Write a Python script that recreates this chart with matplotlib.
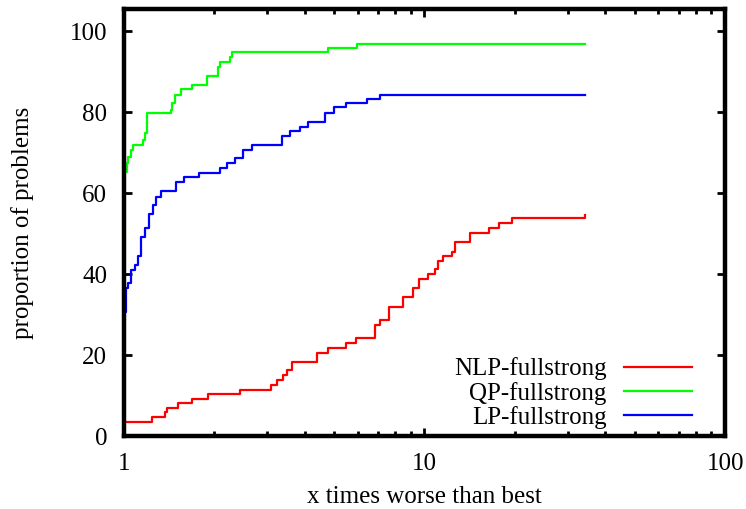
import matplotlib
matplotlib.use('Agg')
import matplotlib.pyplot as plt
from matplotlib.ticker import LogLocator, NullFormatter, FixedLocator, FixedFormatter

plt.rcParams['font.family'] = ['Liberation Serif', 'DejaVu Serif']

# step breakpoints (x times worse than best) and proportion after each step
nlp_x = [1.0, 1.239, 1.369, 1.39, 1.51, 1.684, 1.904, 2.43, 3.08, 3.23, 3.39,
         3.49, 3.62, 4.38, 4.77, 5.48, 5.92, 6.84, 7.12, 7.62, 8.48, 9.15,
         9.58, 10.27, 10.82, 11.07, 11.5, 12.32, 12.6, 14.15, 16.4, 17.7,
         19.5, 34.2]
nlp_y = [3.5, 4.7, 5.9, 6.9, 8.1, 9.1, 10.4, 11.4, 12.6, 13.8, 15.1, 16.3,
         18.2, 20.5, 21.7, 23.0, 24.2, 27.4, 28.6, 31.9, 34.3, 36.5, 38.8,
         40.0, 41.2, 43.2, 44.4, 45.4, 47.9, 50.1, 51.4, 52.6, 53.8, 54.5]

qp_x = [1.0, 1.023, 1.031, 1.055, 1.071, 1.157, 1.175, 1.193, 1.433, 1.445,
        1.478, 1.548, 1.684, 1.888, 2.055, 2.087, 2.254, 2.288, 4.77, 5.96,
        34.2]
qp_y = [65.2, 67.4, 68.9, 70.6, 71.9, 73.1, 74.8, 79.8, 80.5, 82.2, 84.2,
        85.7, 86.7, 88.9, 91.1, 92.3, 93.6, 94.8, 95.9, 96.7, 96.7]

lp_x = [1.0, 1.015, 1.031, 1.055, 1.088, 1.113, 1.139, 1.175, 1.211, 1.249,
        1.278, 1.328, 1.49, 1.584, 1.776, 2.087, 2.2, 2.34, 2.49, 2.667,
        3.36, 3.57, 3.85, 4.1, 4.66, 5.0, 5.48, 6.44, 7.12, 34.2]
lp_y = [30.6, 36.5, 37.8, 41.0, 42.2, 44.4, 49.1, 51.4, 54.8, 57.0, 59.0,
        60.5, 62.7, 64.0, 65.0, 66.2, 67.4, 68.6, 70.6, 71.9, 74.0, 75.3,
        76.3, 77.5, 79.8, 81.2, 82.2, 83.3, 84.1, 84.1]

fig = plt.figure(figsize=(7.46, 5.09), dpi=100)
ax = fig.add_axes([0.166, 0.1434, 0.806, 0.8386])

ax.plot(nlp_x, nlp_y, color='#ff0000', lw=1.6, drawstyle='steps-post', label='NLP-fullstrong')
ax.plot(qp_x, qp_y, color='#00ff00', lw=1.6, drawstyle='steps-post', label='QP-fullstrong')
ax.plot(lp_x, lp_y, color='#0000ff', lw=1.6, drawstyle='steps-post', label='LP-fullstrong')

ax.set_xscale('log')
ax.set_xlim(1, 100)
ax.set_ylim(0, 105.4)
ax.xaxis.set_major_locator(FixedLocator([1, 10, 100]))
ax.xaxis.set_major_formatter(FixedFormatter(['1', '10', '100']))
ax.xaxis.set_minor_locator(LogLocator(base=10, subs=range(2, 10)))
ax.xaxis.set_minor_formatter(NullFormatter())
ax.set_yticks([0, 20, 40, 60, 80, 100])

for s in ax.spines.values():
    s.set_linewidth(3.2)
ax.tick_params(which='both', direction='in', top=True, right=True,
               labelsize=18, width=2)
ax.tick_params(which='major', length=6)
ax.tick_params(which='minor', length=3.5)
ax.tick_params(axis='x', which='major', pad=12)
ax.tick_params(axis='y', which='major', pad=12)

ax.set_xlabel('x times worse than best', fontsize=18, labelpad=8)
ax.set_ylabel('proportion of problems', fontsize=18, labelpad=26)

ax.legend(loc='lower right', bbox_to_anchor=(0.978, -0.03), frameon=False,
          markerfirst=False, fontsize=18, handlelength=2.7, handletextpad=0.72,
          labelspacing=0.05, borderpad=0.3)

fig.savefig('out.png', dpi=100)
